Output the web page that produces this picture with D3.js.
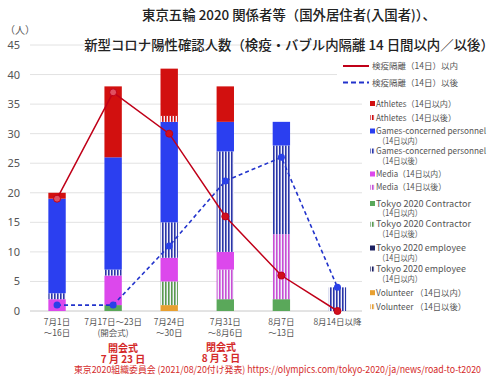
<!DOCTYPE html>
<html><head><meta charset="utf-8">
<script src="https://cdn.jsdelivr.net/npm/d3@7"></script>
<style>
html,body{margin:0;padding:0;background:#fff;}
svg{display:block;font-family:"Noto Sans CJK JP","Noto Sans",sans-serif;}
</style></head>
<body><svg id="c" width="500" height="377"></svg>
<script>
const categories = ["7月1日|～16日","7月17日～23日|(開会式)","7月24日|～30日","7月31日|～8月6日","8月7日|～13日","8月14日以降"];
const yTicks = [0,5,10,15,20,25,30,35,40,45];

const athletesIn      = [1,12,8,6,0,0];
const athletesAfter   = [0,0,1,0,0,0];
const gamesIn         = [16,19,17,5,4,0];
const gamesAfter      = [1,1,6,17,15,4];
const mediaIn         = [2,5,4,3,0,0];
const mediaAfter      = [0,0,0,5,11,0];
const contractorIn    = [0,1,0,2,2,0];
const contractorAfter = [0,0,4,0,0,0];
const employeeIn      = [0,0,0,0,0,0];
const employeeAfter   = [0,0,0,0,0,0];
const volunteerIn     = [0,0,1,0,0,0];
const volunteerAfter  = [0,0,0,0,0,0];

const totalWithin = [19,37,30,16,6,0];
const totalAfter  = [1,1,11,22,26,4];

const seriesDefs = [
  {key:"athletesIn", label:"Athletes（14日以内）", vals:athletesIn, color:"#d2100f", striped:false},
  {key:"athletesAfter", label:"Athletes（14日以後）", vals:athletesAfter, color:"#d2100f", striped:true},
  {key:"gamesIn", label:"Games-concerned personnel|（14日以内）", vals:gamesIn, color:"#2b3ff0", striped:false},
  {key:"gamesAfter", label:"Games-concerned personnel|（14日以後）", vals:gamesAfter, color:"#2a35a8", striped:true},
  {key:"mediaIn", label:"Media（14日以内）", vals:mediaIn, color:"#dc48ec", striped:false},
  {key:"mediaAfter", label:"Media（14日以後）", vals:mediaAfter, color:"#c84fd4", striped:true},
  {key:"contractorIn", label:"Tokyo 2020 Contractor|（14日以内）", vals:contractorIn, color:"#5aa85a", striped:false},
  {key:"contractorAfter", label:"Tokyo 2020 Contractor|（14日以後）", vals:contractorAfter, color:"#5a9a4e", striped:true},
  {key:"employeeIn", label:"Tokyo 2020 employee|（14日以内）", vals:employeeIn, color:"#1c2060", striped:false},
  {key:"employeeAfter", label:"Tokyo 2020 employee|（14日以内）", vals:employeeAfter, color:"#1c2060", striped:true},
  {key:"volunteerIn", label:"Volunteer （14日以内）", vals:volunteerIn, color:"#e8a030", striped:false},
  {key:"volunteerAfter", label:"Volunteer （14日以後）", vals:volunteerAfter, color:"#e8a030", striped:true}
];

const svg = d3.select("#c");
const defs = svg.append("defs");
seriesDefs.filter(s=>s.striped).forEach(s=>{
  const p = defs.append("pattern").attr("id","pat-"+s.key).attr("patternUnits","userSpaceOnUse")
    .attr("width",3).attr("height",4);
  p.append("rect").attr("width",3).attr("height",4).attr("fill","#f2f2fa");
  p.append("rect").attr("x",0).attr("width",1.6).attr("height",4).attr("fill",s.color);
});
const fillOf = s => s.striped ? `url(#pat-${s.key})` : s.color;

const x = d3.scaleBand().domain(categories).range([29,365.5]).paddingInner(0.69).paddingOuter(0.345);
const y = d3.scaleLinear().domain([0,45]).range([311,45]);

// gridlines
svg.append("g").selectAll("line").data(yTicks).join("line")
  .attr("x1",30).attr("x2",362).attr("y1",d=>y(d)).attr("y2",d=>y(d))
  .attr("stroke",d=>d===0?"#c8c8c8":"#e2e2e2").attr("stroke-width",1);

// y labels
svg.append("g").selectAll("text").data(yTicks).join("text")
  .attr("x",20).attr("y",d=>y(d)+4).attr("text-anchor","end")
  .attr("font-size",11).attr("fill","#555").attr("font-family","Noto Sans, sans-serif").text(d=>d);
svg.append("text").attr("x",5).attr("y",34).attr("font-size",10).attr("fill","#555").text("（人）");

// stacked bars (bottom = last legend item)
const order = seriesDefs.slice().reverse();
const table = categories.map((c,i)=>{const o={cat:c}; seriesDefs.forEach(s=>o[s.key]=s.vals[i]); return o;});
const stack = d3.stack().keys(order.map(s=>s.key))(table);
const byKey = Object.fromEntries(seriesDefs.map(s=>[s.key,s]));
svg.append("g").selectAll("g").data(stack).join("g")
  .attr("fill",d=>fillOf(byKey[d.key]))
  .selectAll("rect").data(d=>d).join("rect")
  .attr("x",d=>x(d.data.cat)).attr("width",x.bandwidth())
  .attr("y",d=>y(d[1])).attr("height",d=>y(d[0])-y(d[1]));

// lines
const cx = c => x(c)+x.bandwidth()/2;
const redLine = d3.line().x((d,i)=>cx(categories[i])).y(d=>y(d));
const blueLine = d3.line().x((d,i)=>cx(categories[i])).y(d=>y(d));
svg.append("path").datum(totalWithin).attr("d",redLine).attr("fill","none").attr("stroke","#c00018").attr("stroke-width",1.5);
svg.append("path").datum(totalAfter).attr("d",blueLine).attr("fill","none").attr("stroke","#2233cc").attr("stroke-width",1.6).attr("stroke-dasharray","4,3");
svg.append("g").selectAll("circle").data(totalWithin).join("circle")
  .attr("cx",(d,i)=>cx(categories[i])).attr("cy",d=>y(d)).attr("r",3.5)
  .attr("fill",(d,i)=>i<2?"#e05060":"#d0101c").attr("stroke","#c00018").attr("stroke-width",1);
svg.append("g").selectAll("circle").data(totalAfter).join("circle")
  .attr("cx",(d,i)=>cx(categories[i])).attr("cy",d=>y(d)).attr("r",3.5).attr("fill","#2a40e8");

// x labels
const xl = svg.append("g").selectAll("text").data(categories).join("text")
  .attr("text-anchor","middle").attr("font-size",8.5).attr("fill","#555");
xl.each(function(c){
  const parts = c.split("|");
  parts.forEach((p,j)=>d3.select(this).append("tspan").attr("x",cx(c)).attr("y",325+j*11).text(p));
});

// title
svg.append("text").attr("x",289).attr("y",20).attr("text-anchor","middle").attr("font-size",13.4).attr("font-weight",500).attr("fill","#222")
  .text("東京五輪 2020 関係者等（国外居住者(入国者)）、");
svg.append("rect").attr("x",337).attr("y",55).attr("width",163).attr("height",36).attr("fill","#fff");
svg.append("text").attr("x",289).attr("y",50).attr("text-anchor","middle").attr("font-size",13.4).attr("font-weight",500).attr("fill","#222")
  .text("新型コロナ陽性確認人数（検疫・バブル内隔離 14 日間以内／以後）");

// line legend
const ll = [{label:"検疫隔離（14日）以内",color:"#c00018",dash:null,y:66},{label:"検疫隔離（14日）以後",color:"#2233cc",dash:"5,3",y:82.5}];
ll.forEach(l=>{
  svg.append("line").attr("x1",343).attr("x2",369).attr("y1",l.y).attr("y2",l.y).attr("stroke",l.color).attr("stroke-width",2).attr("stroke-dasharray",l.dash);
  svg.append("text").attr("x",372).attr("y",l.y+3).attr("font-size",8.5).attr("fill","#555").text(l.label);
});

// bar legend
const legY = [103.5,117.5,131,151,174,187.3,203.5,224.3,248,269,292.7,306.7];
const legW = [80,80,110,110,70,70,95,95,90,90,90,90];
const lg = svg.append("g").selectAll("g").data(seriesDefs).join("g");
lg.append("rect").attr("x",370).attr("y",(d,i)=>legY[i]-2.5).attr("width",5).attr("height",5).attr("fill",d=>fillOf(d));
lg.each(function(d,i){
  const parts = d.label.split("|");
  parts.forEach((p,j)=>d3.select(this).append("text").attr("x",j?378:376).attr("y",legY[i]+3+j*9.8)
    .attr("font-size",8.5).attr("fill","#555")
    .attr("textLength",j?44:legW[i]).attr("lengthAdjust","spacingAndGlyphs").text(p));
});

// annotations
const ann = [{x:123,lines:["開会式","7 月 23 日"],y:352},{x:221,lines:["閉会式","8 月 3 日"],y:350.5}];
ann.forEach(a=>a.lines.forEach((t,j)=>svg.append("text").attr("x",a.x).attr("y",a.y+j*11).attr("text-anchor","middle")
  .attr("font-size",10).attr("font-weight",700).attr("fill","#d42a2a").text(t)));

svg.append("text").attr("x",74).attr("y",373).attr("font-size",9.5).attr("fill","#d42a2a")
  .attr("textLength",407).attr("lengthAdjust","spacingAndGlyphs")
  .text("東京2020組織委員会 (2021/08/20付け発表) https://olympics.com/tokyo-2020/ja/news/road-to-t2020");
</script></body></html>
